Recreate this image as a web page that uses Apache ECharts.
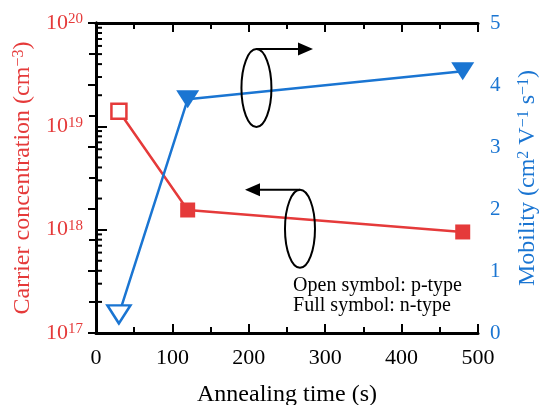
<!DOCTYPE html>
<html>
<head>
<meta charset="utf-8">
<script src="https://cdn.jsdelivr.net/npm/echarts@6/dist/echarts.min.js"></script>
<style>
  html, body { margin: 0; padding: 0; background: #fff; }
  #chart { width: 539px; height: 405px; }
</style>
</head>
<body>
<div id="chart"></div>
<script>
// Annealing times (s) and measured values
const annealTime = [30, 120, 480];
const carrierConc = [1.4e19, 1.55e18, 0.95e18];   // cm^-3
const mobility = [0.3, 3.77, 4.22];               // cm^2 V^-1 s^-1
const isPType = [true, false, false];              // open symbol = p-type

// Axis ticks
const xTicks = [0, 100, 200, 300, 400, 500];
const mobilityTicks = [0, 1, 2, 3, 4, 5];
const concDecades = [17, 18, 19, 20];
const concMinorTicks = [
  2e17, 3e17, 4e17, 5e17, 6e17, 7e17, 8e17, 9e17,
  2e18, 3e18, 4e18, 5e18, 6e18, 7e18, 8e18, 9e18,
  2e19, 3e19, 4e19, 5e19, 6e19, 7e19, 8e19, 9e19
];

// Text
const legendLines = ['Open symbol: p-type', 'Full symbol: n-type'];

const RED = '#e53a3a';
const BLUE = '#1a75d2';
const FONT = "'Liberation Serif', 'Times New Roman', serif";

const chart = echarts.init(document.getElementById('chart'), null, { renderer: 'canvas' });

function seriesData(values, color) {
  return annealTime.map((t, i) => ({
    value: [t, values[i]],
    itemStyle: isPType[i]
      ? { color: '#fff', borderColor: color, borderWidth: 2.5 }
      : { color: color, borderColor: color, borderWidth: 0 }
  }));
}

const supRich = (size, supSize, color) => ({
  n: { fontSize: size, fontFamily: FONT, color: color },
  s: { fontSize: supSize, fontFamily: FONT, color: color, verticalAlign: 'top' }
});

const option = {
  backgroundColor: '#fff',
  animation: false,
  grid: { left: 96, right: 61, top: 23, bottom: 72, outerBoundsMode: 'none', containLabel: false },
  xAxis: [
    {
      type: 'value', position: 'bottom',
      min: xTicks[0], max: xTicks[xTicks.length - 1], interval: 100,
      name: 'Annealing time (s)', nameLocation: 'middle', nameGap: 50,
      nameTextStyle: { fontSize: 24, fontFamily: FONT, color: '#000' },
      axisLine: { show: true, lineStyle: { color: '#000', width: 3 } },
      axisTick: { show: true, inside: true, length: 9, lineStyle: { color: '#000', width: 2 } },
      minorTick: { show: true, splitNumber: 2, length: 6, lineStyle: { color: '#000', width: 2 } },
      axisLabel: { fontSize: 22, fontFamily: FONT, color: '#000', margin: 14 },
      splitLine: { show: false }
    },
    {
      type: 'value', position: 'top',
      min: xTicks[0], max: xTicks[xTicks.length - 1], interval: 100,
      axisLine: { show: true, lineStyle: { color: '#000', width: 3 } },
      axisTick: { show: true, inside: true, length: 9, lineStyle: { color: '#000', width: 2 } },
      minorTick: { show: true, splitNumber: 2, length: 6, lineStyle: { color: '#000', width: 2 } },
      axisLabel: { show: false },
      splitLine: { show: false }
    }
  ],
  yAxis: [
    {
      type: 'log', logBase: 10, position: 'left',
      min: Math.pow(10, concDecades[0]), max: Math.pow(10, concDecades[concDecades.length - 1]),
      name: '{n|Carrier concentration (cm}{s|−3}{n|)}',
      nameLocation: 'middle', nameGap: 58,
      nameTextStyle: { color: RED, rich: supRich(24, 16, RED) },
      axisLine: { show: true, lineStyle: { color: '#000', width: 3 } },
      axisTick: { show: true, inside: true, length: 11, lineStyle: { color: '#000', width: 2 } },
      axisLabel: {
        margin: 13,
        formatter: v => '{n|10}{s|' + Math.round(Math.log10(v)) + '}',
        rich: supRich(22, 15, RED)
      },
      splitLine: { show: false }
    },
    {
      type: 'value', position: 'right',
      min: mobilityTicks[0], max: mobilityTicks[mobilityTicks.length - 1], interval: 1,
      name: '{n|Mobility (cm}{s|2}{n| V}{s|−1}{n| s}{s|−1}{n|)}',
      nameLocation: 'middle', nameGap: 38,
      nameTextStyle: { color: BLUE, rich: supRich(24, 16, BLUE) },
      axisLine: { show: true, lineStyle: { color: '#000', width: 3 } },
      axisTick: { show: true, inside: true, length: 8, lineStyle: { color: '#000', width: 2 } },
      minorTick: { show: true, splitNumber: 2, length: 7, lineStyle: { color: '#000', width: 2 } },
      axisLabel: { fontSize: 21, fontFamily: FONT, color: BLUE, margin: 12 },
      splitLine: { show: false }
    }
  ],
  series: [
    {
      name: 'Carrier concentration', type: 'line',
      xAxisIndex: 0, yAxisIndex: 0,
      data: seriesData(carrierConc, RED),
      symbol: 'rect', symbolSize: 15, showAllSymbol: true,
      lineStyle: { color: RED, width: 2.5 },
      z: 3
    },
    {
      name: 'Mobility', type: 'line',
      xAxisIndex: 0, yAxisIndex: 1,
      data: seriesData(mobility, BLUE),
      symbol: 'triangle', symbolRotate: 180, symbolSize: [23, 18], showAllSymbol: true,
      lineStyle: { color: BLUE, width: 2.5 },
      z: 3
    },
    {
      // minor ticks of the logarithmic carrier-concentration axis
      name: 'log minor ticks', type: 'custom',
      xAxisIndex: 0, yAxisIndex: 0,
      silent: true, clip: false, z: 5,
      data: concMinorTicks.map(v => [xTicks[0], v]),
      renderItem: (params, api) => {
        const p = api.coord([api.value(0), api.value(1)]);
        return {
          type: 'line',
          shape: { x1: p[0], y1: p[1], x2: p[0] + 6, y2: p[1] },
          style: { stroke: '#000', lineWidth: 2 }
        };
      }
    }
  ]
};

chart.setOption(option);

// Annotation anchors in axis units (time in s, mobility)
const upperLoop = { t: 210, mu: 3.95, arrowTo: 284 };   // points at mobility axis
const lowerLoop = { t: 267, mu: 1.68, arrowTo: 195 };   // points at concentration axis
const legendAnchor = { t: 258, mu: 0.77 };

function px(t, mu) {
  return chart.convertToPixel({ xAxisIndex: 0, yAxisIndex: 1 }, [t, mu]);
}

function loopWithArrow(loop, dir) {
  const c = px(loop.t, loop.mu);
  const rx = 15, ry = 39;
  const top = c[1] - ry;
  const tip = px(loop.arrowTo, loop.mu)[0];
  const headLen = 15, headHalf = 6.5;
  const base = tip - dir * headLen;
  return [
    {
      type: 'ellipse',
      shape: { cx: c[0], cy: c[1], rx: rx, ry: ry },
      style: { fill: 'none', stroke: '#000', lineWidth: 2 },
      z: 10
    },
    {
      type: 'line',
      shape: { x1: c[0], y1: top, x2: base, y2: top },
      style: { stroke: '#000', lineWidth: 2 },
      z: 10
    },
    {
      type: 'polygon',
      shape: { points: [[tip, top], [base, top - headHalf], [base, top + headHalf]] },
      style: { fill: '#000' },
      z: 10
    }
  ];
}

const legendPos = px(legendAnchor.t, legendAnchor.mu);

chart.setOption({
  graphic: [
    ...loopWithArrow(upperLoop, 1),
    ...loopWithArrow(lowerLoop, -1),
    {
      type: 'text',
      x: legendPos[0], y: legendPos[1] - 10,
      style: {
        text: legendLines.join('\n'),
        font: "20px 'Liberation Serif', 'Times New Roman', serif",
        fill: '#000', lineHeight: 20,
        textAlign: 'left', textVerticalAlign: 'top'
      },
      z: 10
    }
  ]
});
</script>
</body>
</html>
